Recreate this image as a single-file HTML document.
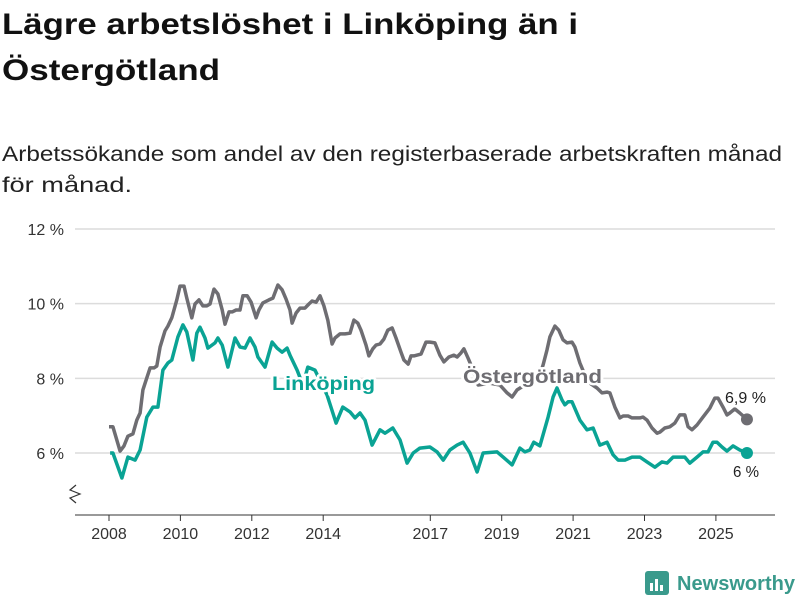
<!DOCTYPE html>
<html><head><meta charset="utf-8"><style>
html,body{margin:0;padding:0;background:#fff;width:800px;height:600px;overflow:hidden}
svg{display:block;font-family:"Liberation Sans",sans-serif}
</style></head><body>
<svg id="chart" width="800" height="600" viewBox="0 0 800 600">
<text x="2" y="34" font-size="30" font-weight="bold" fill="#111" textLength="576" lengthAdjust="spacingAndGlyphs">Lägre arbetslöshet i Linköping än i</text>
<text x="2" y="80" font-size="30" font-weight="bold" fill="#111" textLength="218" lengthAdjust="spacingAndGlyphs">Östergötland</text>
<text x="2" y="161" font-size="21" fill="#222" textLength="780" lengthAdjust="spacingAndGlyphs">Arbetssökande som andel av den registerbaserade arbetskraften månad</text>
<text x="2" y="192" font-size="21" fill="#222" textLength="130" lengthAdjust="spacingAndGlyphs">för månad.</text>
<g id="grid"></g>
<g id="xaxis"></g>
<g id="lines"></g>
<g id="labels"></g>
<g>
<rect x="645" y="571" width="24" height="24" rx="3" fill="#3a9a8c"/>
<rect x="650" y="583" width="3" height="8" fill="#fff"/><rect x="655" y="579" width="3" height="12" fill="#fff"/><rect x="660" y="585" width="3" height="6" fill="#fff"/>
<text x="677" y="590" font-size="20" font-weight="bold" fill="#3a9a8c" textLength="118" lengthAdjust="spacingAndGlyphs">Newsworthy</text>
</g>
</svg>
<script>
const yTicks=[6,8,10,12];
const xTicks=[2008,2010,2012,2014,2017,2019,2021,2023,2025];
const ostT=[2008.00,2008.11,2008.31,2008.42,2008.53,2008.67,2008.78,2008.87,2008.95,2009.06,2009.15,2009.26,2009.34,2009.43,2009.57,2009.65,2009.76,2009.90,2009.99,2010.10,2010.18,2010.32,2010.41,2010.52,2010.63,2010.74,2010.83,2010.94,2011.05,2011.17,2011.25,2011.36,2011.45,2011.56,2011.67,2011.75,2011.87,2011.98,2012.12,2012.20,2012.31,2012.48,2012.59,2012.73,2012.85,2012.96,2013.07,2013.13,2013.24,2013.35,2013.49,2013.60,2013.69,2013.80,2013.91,2014.02,2014.13,2014.25,2014.33,2014.47,2014.61,2014.75,2014.86,2014.97,2015.06,2015.20,2015.28,2015.39,2015.48,2015.59,2015.70,2015.81,2015.93,2016.04,2016.18,2016.26,2016.38,2016.46,2016.54,2016.74,2016.88,2016.99,2017.13,2017.27,2017.38,2017.52,2017.66,2017.75,2017.86,2017.94,2018.06,2018.20,2018.34,2018.67,2018.95,2019.15,2019.29,2019.43,2019.65,2019.88,2020.07,2020.16,2020.27,2020.35,2020.49,2020.60,2020.72,2020.83,2020.97,2021.05,2021.19,2021.33,2021.47,2021.67,2021.81,2021.95,2022.03,2022.17,2022.31,2022.40,2022.54,2022.65,2022.87,2022.96,2023.07,2023.21,2023.35,2023.43,2023.57,2023.71,2023.85,2023.99,2024.13,2024.22,2024.33,2024.47,2024.64,2024.83,2024.97,2025.06,2025.20,2025.31,2025.39,2025.53,2025.67,2025.87];
const ostV=[6.70,6.70,6.05,6.19,6.45,6.51,6.88,7.07,7.69,8.01,8.28,8.28,8.33,8.84,9.27,9.40,9.62,10.10,10.47,10.47,10.15,9.62,9.99,10.10,9.94,9.94,9.99,10.39,10.26,9.83,9.45,9.78,9.78,9.83,9.83,10.21,10.21,10.04,9.62,9.83,10.02,10.10,10.15,10.50,10.37,10.12,9.83,9.48,9.75,9.88,9.88,9.99,10.07,10.04,10.21,9.94,9.56,8.92,9.08,9.19,9.19,9.21,9.56,9.48,9.29,8.89,8.60,8.79,8.89,8.92,9.05,9.29,9.35,9.08,8.70,8.49,8.38,8.60,8.60,8.65,8.97,8.97,8.95,8.62,8.44,8.57,8.62,8.57,8.68,8.79,8.54,8.22,7.82,7.87,7.82,7.61,7.50,7.69,7.82,7.90,8.09,8.36,8.76,9.11,9.40,9.29,9.03,8.95,8.97,8.84,8.41,8.09,7.87,7.74,7.61,7.63,7.61,7.23,6.94,6.99,6.99,6.94,6.94,6.96,6.88,6.67,6.53,6.56,6.67,6.70,6.80,7.02,7.02,6.70,6.62,6.75,6.96,7.20,7.47,7.47,7.23,7.02,7.07,7.18,7.07,6.90];
const linT=[2008.03,2008.11,2008.36,2008.53,2008.73,2008.87,2009.06,2009.23,2009.37,2009.51,2009.65,2009.76,2009.93,2010.07,2010.18,2010.35,2010.46,2010.55,2010.69,2010.77,2010.97,2011.05,2011.17,2011.33,2011.53,2011.67,2011.81,2011.95,2012.09,2012.17,2012.37,2012.57,2012.71,2012.85,2012.99,2013.07,2013.27,2013.43,2013.57,2013.77,2013.97,2014.11,2014.36,2014.55,2014.75,2014.89,2015.03,2015.17,2015.37,2015.59,2015.73,2015.95,2016.15,2016.35,2016.52,2016.71,2016.99,2017.19,2017.36,2017.55,2017.75,2017.92,2018.11,2018.31,2018.48,2018.87,2019.04,2019.29,2019.51,2019.65,2019.79,2019.90,2020.07,2020.30,2020.44,2020.55,2020.69,2020.77,2020.86,2020.97,2021.19,2021.39,2021.56,2021.75,2021.95,2022.12,2022.26,2022.45,2022.65,2022.87,2023.07,2023.29,2023.49,2023.63,2023.80,2024.13,2024.27,2024.47,2024.64,2024.78,2024.92,2025.03,2025.17,2025.31,2025.48,2025.67,2025.87];
const linV=[6.00,6.00,5.33,5.89,5.81,6.08,6.96,7.23,7.23,8.22,8.41,8.49,9.11,9.43,9.24,8.49,9.21,9.37,9.08,8.81,8.95,9.08,8.89,8.30,9.08,8.84,8.81,9.08,8.84,8.57,8.30,8.97,8.81,8.70,8.81,8.62,8.22,7.82,8.30,8.22,7.82,7.55,6.80,7.23,7.10,6.94,7.07,6.88,6.21,6.62,6.53,6.67,6.35,5.73,6.00,6.13,6.16,6.03,5.81,6.08,6.21,6.29,6.00,5.49,6.00,6.03,5.89,5.68,6.13,6.03,6.08,6.29,6.19,6.96,7.50,7.74,7.42,7.29,7.37,7.37,6.88,6.62,6.67,6.21,6.29,5.95,5.81,5.81,5.89,5.89,5.76,5.62,5.76,5.73,5.89,5.89,5.73,5.89,6.03,6.03,6.29,6.29,6.16,6.05,6.19,6.08,6.00];
const NS="http://www.w3.org/2000/svg";
const X=t=>109+(t-2008)*35.7;
const Y=v=>229+(12-v)*37.33;
function mk(tag,attrs,parent){const e=document.createElementNS(NS,tag);for(const k in attrs)e.setAttribute(k,attrs[k]);parent.appendChild(e);return e;}
const grid=document.getElementById('grid'),xa=document.getElementById('xaxis'),lines=document.getElementById('lines'),lab=document.getElementById('labels');
yTicks.forEach(v=>{
 const l=mk('line',{x1:75,x2:775,y1:Y(v),y2:Y(v),stroke:'#dcdcdc','stroke-width':1.5},grid);
 
 
 const t=mk('text',{x:64,y:Y(v)+6,'text-anchor':'end','font-size':16,fill:'#333'},grid);
 t.textContent=v+' %';
 
 
});
const ax=mk('line',{x1:75,x2:775,y1:515,y2:515,stroke:'#333','stroke-width':1},xa);


const brk=mk('path',{d:'M76 485 L70 490 L80 494 L70 498 L76 503',fill:'none',stroke:'#333','stroke-width':1.2},xa);


xTicks.forEach(yr=>{
 const tk=mk('line',{x1:X(yr),x2:X(yr),y1:515,y2:521,stroke:'#333'},xa);
 
 
 const t=mk('text',{x:X(yr),y:539,'text-anchor':'middle','font-size':16,fill:'#333'},xa);
 t.textContent=yr;
 
 
});
function path(T,V){return T.map((t,i)=>(i?'L':'M')+X(t).toFixed(1)+' '+Y(V[i]).toFixed(1)).join(' ');}
const po=mk('path',{d:path(ostT,ostV),fill:'none',stroke:'#6e6d72','stroke-width':3.5,'stroke-linejoin':'round'},lines);


const pl=mk('path',{d:path(linT,linV),fill:'none',stroke:'#0aa394','stroke-width':3.5,'stroke-linejoin':'round'},lines);


const d1=mk('circle',{cx:X(ostT[ostT.length-1]),cy:Y(ostV[ostV.length-1]),r:6,fill:'#6e6d72'},lines);


const d2=mk('circle',{cx:X(linT[linT.length-1]),cy:Y(linV[linV.length-1]),r:6,fill:'#0aa394'},lines);


function label(txt,x,y,col,size,bold,name,len){
 const a={x:x,y:y,'font-size':size,'font-weight':bold?'bold':'normal'};
 if(len){a.textLength=len;a.lengthAdjust='spacingAndGlyphs';}
 const h=mk('text',Object.assign({fill:'#fff',stroke:'#fff','stroke-width':5,'stroke-linejoin':'round'},a),lab);
 h.textContent=txt;
 const t=mk('text',Object.assign({fill:col},a),lab);
 t.textContent=txt;
 
 
}
label('Linköping',272,390,'#0aa394',19,true,'linkoping-label',103);
label('Östergötland',463,383,'#6e6d72',19,true,'ostergotland-label',139);
label('6,9 %',725,403,'#222',16,false,'ostergotland-end-value',41);
label('6 %',733,477,'#222',16,false,'linkoping-end-value',26);
</script>
</body></html>
